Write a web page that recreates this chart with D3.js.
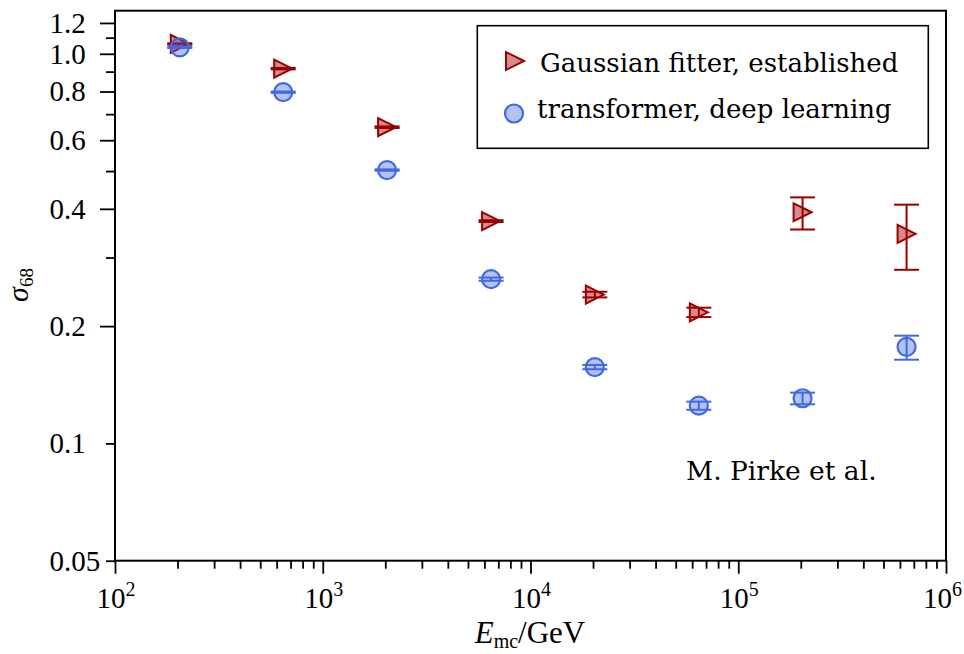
<!DOCTYPE html>
<html><head><meta charset="utf-8">
<script src="https://cdn.jsdelivr.net/npm/d3@7"></script>
<style>body{margin:0;background:#fff}</style>
</head><body>
<svg id="chart" width="964" height="654"></svg>
<script>
const energies = [205, 645, 2040, 6460, 20400, 64600, 204000, 646000];
const gaussValues = [1.06, 0.916, 0.648, 0.372, 0.241, 0.217, 0.392, 0.345];
const gaussLower  = [1.056, 0.912, 0.645, 0.370, 0.237, 0.211, 0.354, 0.279];
const gaussUpper  = [1.064, 0.920, 0.651, 0.374, 0.245, 0.223, 0.428, 0.410];
const transValues = [1.039, 0.797, 0.503, 0.264, 0.157, 0.125, 0.1306, 0.177];
const transLower  = [1.035, 0.794, 0.501, 0.2615, 0.155, 0.122, 0.126, 0.164];
const transUpper  = [1.043, 0.800, 0.505, 0.2665, 0.159, 0.128, 0.135, 0.189];
const yTickValues = [0.05, 0.1, 0.2, 0.4, 0.6, 0.8, 1.0, 1.2];
const yTickLabels = ["0.05", "0.1", "0.2", "0.4", "0.6", "0.8", "1.0", "1.2"];
const yLongTicks  = [0.2, 0.4, 0.6, 0.8, 1.0, 1.2];
const yShortTicks = [0.05, 0.1, 0.3, 0.5, 0.7, 0.9, 1.1];
const xTickExponents = [2, 3, 4, 5, 6];
const seriesNames = ["Gaussian fitter, established", "transformer, deep learning"];
const annotation = "M. Pirke et al.";

const svg = d3.select("#chart");
const L = 115, R = 946, T = 10.7, B = 560.7;
const x = d3.scaleLog().domain([100, 1e6]).range([L, R]);
const y = d3.scaleLog().domain([0.05, 1.29]).range([B, T]);

const tickFont = "'Liberation Serif', serif";
const textFont = "'DejaVu Serif', serif";
const redEdge = "#9b0000", redFill = "rgba(155,0,0,0.45)";
const blueEdge = "#4169e1", blueFill = "rgba(65,105,225,0.4)";

// x axis ticks
const xMajor = xTickExponents.map(e => Math.pow(10, e));
const xMinor = [];
for (let e = 2; e < 6; e++) for (let m = 2; m <= 9; m++) xMinor.push(m * Math.pow(10, e));

const gxMaj = svg.append("g").attr("transform", `translate(0,${B})`)
  .call(d3.axisBottom(x).tickValues(xMajor).tickSize(13).tickFormat(""));
const gxMin = svg.append("g").attr("transform", `translate(0,${B})`)
  .call(d3.axisBottom(x).tickValues(xMinor).tickSize(8).tickFormat(""));
const gyMaj = svg.append("g").attr("transform", `translate(${L},0)`)
  .call(d3.axisLeft(y).tickValues(yLongTicks).tickSize(15).tickFormat(""));
const gyMin = svg.append("g").attr("transform", `translate(${L},0)`)
  .call(d3.axisLeft(y).tickValues(yShortTicks).tickSize(9).tickFormat(""));
[gxMaj, gxMin, gyMaj, gyMin].forEach(g => {
  g.select(".domain").remove();
  g.selectAll(".tick line").attr("stroke", "#000").attr("stroke-width", 1.8);
});

// x tick labels 10^k
xTickExponents.forEach(e => {
  const t = svg.append("text").attr("x", x(Math.pow(10, e)) + 1).attr("y", 608)
    .attr("text-anchor", "middle").attr("font-family", tickFont).attr("font-size", 29).attr("fill", "#000");
  t.append("tspan").text("10");
  t.append("tspan").attr("font-size", 20).attr("dy", -12).text(String(e));
  const bb = t.node().getBBox();
  if (bb.x + bb.width > 962) t.attr("x", +t.attr("x") - (bb.x + bb.width - 962));
});

// y tick labels (left aligned)
yTickValues.forEach((v, i) => {
  svg.append("text").attr("x", 49.5).attr("y", y(v)).attr("dy", "0.34em")
    .attr("font-family", tickFont).attr("font-size", 29).attr("fill", "#000").text(yTickLabels[i]);
});

// axis labels
const xl = svg.append("text").attr("x", 530).attr("y", 643).attr("text-anchor", "middle")
  .attr("font-family", tickFont).attr("font-size", 31).attr("fill", "#000");
xl.append("tspan").attr("font-style", "italic").text("E");
xl.append("tspan").attr("font-size", 20).attr("dy", 5).text("mc");
xl.append("tspan").attr("dy", -5).text("/GeV");

const yl = svg.append("text").attr("transform", "translate(28,285) rotate(-90)").attr("text-anchor", "middle")
  .attr("font-family", tickFont).attr("font-size", 30).attr("fill", "#000");
yl.append("tspan").attr("font-style", "italic").text("σ");
yl.append("tspan").attr("font-size", 19).attr("dy", 5).text("68");

// data
const capHalf = 12.5;
function drawSeries(vals, lo, hi, edge, fill, marker) {
  const g = svg.append("g");
  const data = energies.map((e, i) => ({e, v: vals[i], lo: lo[i], hi: hi[i]}));
  const eb = g.selectAll("g.eb").data(data).join("g").attr("class", "eb")
    .attr("stroke", edge).attr("stroke-width", 2);
  eb.append("line").attr("x1", d => x(d.e)).attr("x2", d => x(d.e)).attr("y1", d => y(d.lo)).attr("y2", d => y(d.hi));
  eb.append("line").attr("x1", d => x(d.e) - capHalf).attr("x2", d => x(d.e) + capHalf).attr("y1", d => y(d.lo)).attr("y2", d => y(d.lo));
  eb.append("line").attr("x1", d => x(d.e) - capHalf).attr("x2", d => x(d.e) + capHalf).attr("y1", d => y(d.hi)).attr("y2", d => y(d.hi));
  data.forEach(d => marker(g, x(d.e), y(d.v), edge, fill));
}
function triangle(g, cx, cy, edge, fill) {
  const s = 9;
  g.append("path").attr("d", `M${cx + s},${cy} L${cx - s},${cy - s} L${cx - s},${cy + s} Z`)
    .attr("fill", fill).attr("stroke", edge).attr("stroke-width", 2).attr("stroke-linejoin", "miter");
}
function circle(g, cx, cy, edge, fill) {
  g.append("circle").attr("cx", cx).attr("cy", cy).attr("r", 9)
    .attr("fill", fill).attr("stroke", edge).attr("stroke-width", 2.2);
}
drawSeries(gaussValues, gaussLower, gaussUpper, redEdge, redFill, triangle);
drawSeries(transValues, transLower, transUpper, blueEdge, blueFill, circle);

// frame
svg.append("rect").attr("x", L).attr("y", T).attr("width", R - L).attr("height", B - T)
  .attr("fill", "none").attr("stroke", "#000").attr("stroke-width", 2);

// legend
const lg = svg.append("g");
lg.append("rect").attr("x", 477.3).attr("y", 25.7).attr("width", 451).attr("height", 122.6)
  .attr("fill", "#fff").attr("stroke", "#000").attr("stroke-width", 1.6);
triangle(lg, 515, 61, redEdge, redFill);
circle(lg, 514, 113.5, blueEdge, blueFill);
lg.append("text").attr("x", 540).attr("y", 71.5).attr("font-family", textFont).attr("font-size", 26)
  .attr("fill", "#000").text(seriesNames[0]);
lg.append("text").attr("x", 537).attr("y", 118).attr("font-family", textFont).attr("font-size", 26)
  .attr("fill", "#000").text(seriesNames[1]);

svg.append("text").attr("x", 686).attr("y", 480).attr("font-family", textFont).attr("font-size", 26.5)
  .attr("fill", "#000").text(annotation);
</script>
</body></html>
